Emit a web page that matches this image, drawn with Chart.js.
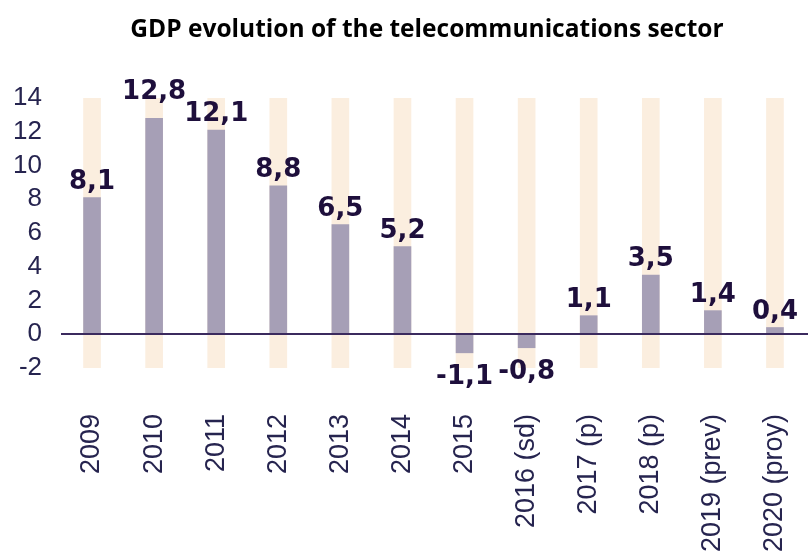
<!DOCTYPE html>
<html>
<head>
<meta charset="utf-8">
<script src="https://cdn.jsdelivr.net/npm/chart.js@4.4.0/dist/chart.umd.min.js"></script>
<style>
  html, body { margin: 0; padding: 0; background: #fff; overflow: hidden; width: 808px; height: 559px; }
  #wrap { position: relative; width: 808px; height: 600px; }
  #title {
    position: absolute; left: 46px; right: 0; top: 11px;
    text-align: center; font: bold 24.5px "Open Sans", "Liberation Sans", Arial, sans-serif; color: #000;
  }
</style>
</head>
<body>
<div id="wrap">
  <canvas id="chart" width="808" height="600"></canvas>
  <div id="title">GDP evolution of the telecommunications sector</div>
</div>
<script>
const YEARS = ["2009", "2010", "2011", "2012", "2013", "2014", "2015",
  "2016 (sd)", "2017 (p)", "2018 (p)", "2019 (prev)", "2020 (proy)"];
const GDP_GROWTH = [8.1, 12.8, 12.1, 8.8, 6.5, 5.2, -1.1, -0.8, 1.1, 3.5, 1.4, 0.4];
const Y_MIN = -2;
const Y_MAX = 14;
const BACKDROP = YEARS.map(() => [Y_MIN, Y_MAX]);

const CANVAS_H = 600;
const PLOT_BOTTOM = 368;
const AXIS_TEXT = "#26244f";

// value labels above / below each bar, comma decimals
const valueLabels = {
  id: "valueLabels",
  afterDatasetsDraw(chart) {
    const ctx = chart.ctx;
    const meta = chart.getDatasetMeta(0);
    const capH = 19;
    ctx.save();
    ctx.font = "bold 26px 'DejaVu Sans'";
    ctx.fillStyle = "#1e0f3c";
    ctx.textAlign = "center";
    ctx.textBaseline = "alphabetic";
    const items = meta.data.map((bar, i) => {
      const v = GDP_GROWTH[i];
      const txt = v.toFixed(1).replace(".", ",");
      const w = ctx.measureText(txt).width;
      const base = v >= 0 ? bar.y - 9 : bar.y + 12 + capH;
      return { v, txt, x: bar.x, w, base };
    });
    // lift a label that would collide with its neighbour
    for (let i = 0; i < items.length - 1; i++) {
      const a = items[i], b = items[i + 1];
      if (a.v < 0 || b.v < 0) continue;
      const overlapX = (a.x + a.w / 2) > (b.x - b.w / 2) - 4;
      if (!overlapX) continue;
      const hi = a.base < b.base ? a : b;
      const lo = hi === a ? b : a;
      if (hi.base > lo.base - capH - 3) hi.base = lo.base - capH - 3;
    }
    items.forEach(it => ctx.fillText(it.txt, it.x, it.base));
    ctx.restore();
  }
};

// zero line drawn over the bars
const zeroLine = {
  id: "zeroLine",
  afterDatasetsDraw(chart) {
    const ctx = chart.ctx;
    const y = Math.round(chart.scales.y.getPixelForValue(0));
    ctx.save();
    ctx.strokeStyle = "#3b2a5e";
    ctx.lineWidth = 2;
    ctx.beginPath();
    ctx.moveTo(chart.chartArea.left, y);
    ctx.lineTo(chart.width, y);
    ctx.stroke();
    ctx.restore();
  }
};

new Chart(document.getElementById("chart"), {
  type: "bar",
  data: {
    labels: YEARS,
    datasets: [
      {
        data: GDP_GROWTH,
        backgroundColor: "#a69fb6",
        barThickness: 17,
        grouped: false,
        order: 0
      },
      {
        data: BACKDROP,
        backgroundColor: "#fbeedf",
        barThickness: 17,
        grouped: false,
        order: 1
      }
    ]
  },
  options: {
    responsive: false,
    animation: false,
    devicePixelRatio: 1,
    layout: { padding: { top: 98, right: 2, left: 0, bottom: 0 } },
    plugins: {
      legend: { display: false },
      tooltip: { enabled: false },
      title: { display: false }
    },
    scales: {
      x: {
        grid: { display: false, drawTicks: false },
        border: { display: false },
        ticks: {
          color: AXIS_TEXT,
          font: { family: "'Liberation Sans', Arial", size: 27 },
          minRotation: 90,
          maxRotation: 90,
          autoSkip: false,
          padding: 46
        },
        afterFit(scale) {
          scale.height = CANVAS_H - PLOT_BOTTOM;
          scale.paddingLeft = 0;
          scale.paddingRight = 0;
        }
      },
      y: {
        min: Y_MIN,
        max: Y_MAX,
        grid: { display: false, drawTicks: false },
        border: { display: false },
        ticks: {
          stepSize: 2,
          autoSkip: false,
          color: AXIS_TEXT,
          font: { family: "'Liberation Sans', Arial", size: 26 },
          padding: 19
        },
        afterFit(scale) { scale.width = 61; }
      }
    }
  },
  plugins: [zeroLine, valueLabels]
});
</script>
</body>
</html>
